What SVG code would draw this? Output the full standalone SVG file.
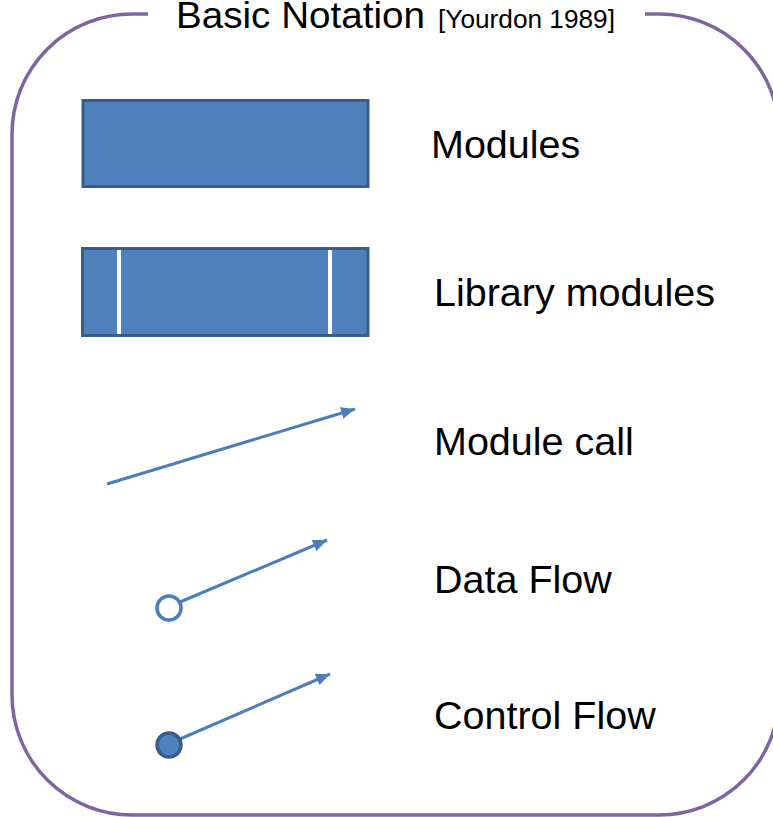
<svg xmlns="http://www.w3.org/2000/svg" width="773" height="817" viewBox="0 0 773 817">
<style>
.lbl{font-family:"Liberation Sans",Arial,sans-serif;font-size:39.5px;fill:#000}
.mod{fill:#4F81BD;stroke:#385D8A;stroke-width:3}
.bar{stroke:#FFFFFF;stroke-width:4}
.flow{fill:none;stroke:#4A7EBB;stroke-width:3}
</style>
<defs>
<marker id="arr" markerUnits="userSpaceOnUse" markerWidth="16" markerHeight="12" refX="14" refY="6" orient="auto">
<path d="M0,0 L14,6 L0,12 Z" fill="#4A7EBB"/>
</marker>
</defs>
<g id="frame">
<path d="M645,14 L659,14 A120,120 0 0 1 779,134 L779,695 A120,120 0 0 1 659,815 L132,815 A120,120 0 0 1 12,695 L12,134 A120,120 0 0 1 132,14 L148,14" fill="none" stroke="#8064A2" stroke-width="3.5"/>
<text x="176" y="27.5" font-family="Liberation Sans,Arial,sans-serif" font-size="36" textLength="249" lengthAdjust="spacingAndGlyphs">Basic Notation</text>
<text x="438" y="27.5" font-family="Liberation Sans,Arial,sans-serif" font-size="25" textLength="177" lengthAdjust="spacingAndGlyphs">[Yourdon 1989]</text>
</g>
<g id="module">
<rect class="mod" x="83" y="100.5" width="285" height="86"/>
<text class="lbl" x="431" y="158">Modules</text>
</g>
<g id="library-module">
<rect class="mod" x="82.5" y="248.5" width="285.5" height="87"/>
<line class="bar" x1="119" y1="250" x2="119" y2="334"/>
<line class="bar" x1="330" y1="250" x2="330" y2="334"/>
<text class="lbl" x="434" y="306">Library modules</text>
</g>
<g id="connectors">
<line class="flow" x1="107" y1="484" x2="355" y2="409" marker-end="url(#arr)"/>
<line class="flow" x1="180" y1="602" x2="327" y2="540" stroke-width="2.5" marker-end="url(#arr)"/>
<line class="flow" x1="180" y1="739" x2="330" y2="674" stroke-width="2.5" marker-end="url(#arr)"/>
</g>
<g id="module-call">
<text class="lbl" x="434" y="455">Module call</text>
</g>
<g id="data-flow">
<circle cx="169" cy="608" r="12" fill="#FFFFFF" stroke="#4A7EBB" stroke-width="3.5"/>
<text class="lbl" x="434" y="593">Data Flow</text>
</g>
<g id="control-flow">
<circle cx="169" cy="745" r="12" fill="#4F81BD" stroke="#385D8A" stroke-width="3.5"/>
<text class="lbl" x="434" y="729">Control Flow</text>
</g>
</svg>
